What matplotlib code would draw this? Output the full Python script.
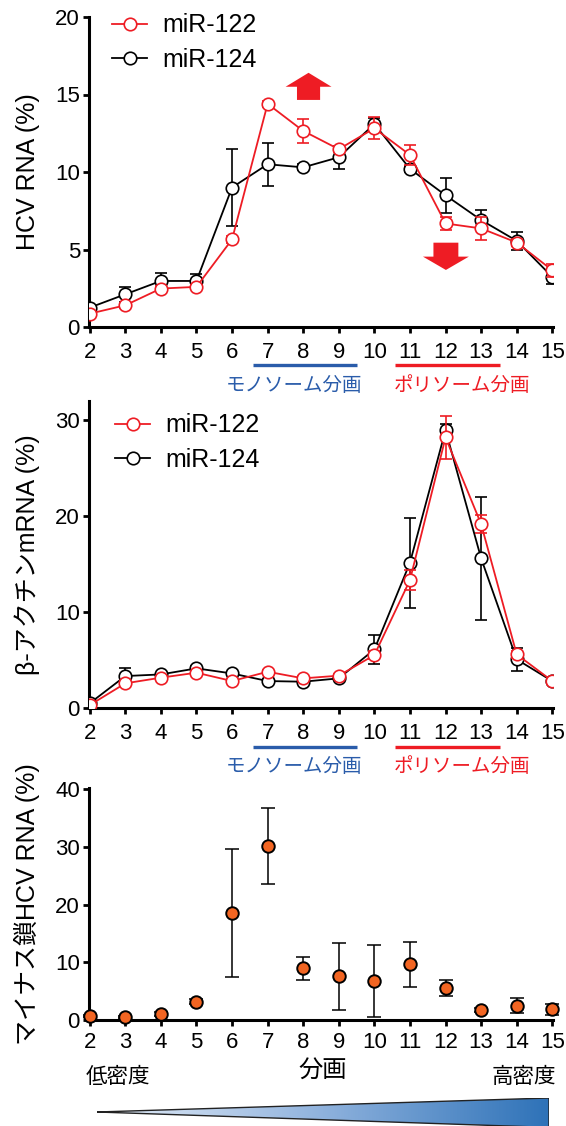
import matplotlib
matplotlib.use('Agg')
import matplotlib.pyplot as plt
from matplotlib.transforms import blended_transform_factory
from matplotlib.colors import LinearSegmentedColormap
from matplotlib.patches import Polygon
import numpy as np

plt.rcParams['font.family'] = ['Liberation Sans', 'Noto Sans CJK JP']

W, H = 566, 1126

# fractions
fractions = np.arange(2, 16)

# HCV RNA (%)
hcv_122 = [0.86, 1.4, 2.48, 2.59, 5.65, 14.4, 12.65, 11.47, 12.82, 11.1, 6.68, 6.36, 5.45, 3.66]
hcv_122_err = [0.1, 0.15, 0.15, 0.15, 0.2, 0.2, 0.8, 0.2, 0.7, 0.65, 0.4, 0.75, 0.2, 0.43]
hcv_124 = [1.25, 2.11, 2.97, 2.97, 9.0, 10.5, 10.3, 10.95, 13.1, 10.2, 8.5, 6.9, 5.56, 3.23]
hcv_124_err = [0.1, 0.48, 0.5, 0.43, 2.5, 1.4, 0.2, 0.73, 0.38, 0.2, 1.12, 0.65, 0.57, 0.48]

# beta-actin mRNA (%)
act_122 = [0.3, 2.57, 3.16, 3.68, 2.81, 3.78, 3.09, 3.37, 5.52, 13.33, 28.2, 19.17, 5.59, 2.81]
act_122_err = [0.1, 0.2, 0.2, 0.2, 0.2, 0.2, 0.2, 0.2, 0.4, 1.05, 2.2, 0.9, 0.4, 0.3]
act_124 = [0.49, 3.33, 3.5, 4.13, 3.6, 2.81, 2.74, 3.09, 6.1, 15.14, 28.96, 15.6, 5.07, 2.8]
act_124_err = [0.1, 0.8, 0.2, 0.2, 0.2, 0.2, 0.2, 0.2, 1.5, 4.7, 0.6, 6.4, 1.2, 0.2]

# minus-strand HCV RNA (%)
minus = [0.75, 0.46, 1.04, 3.17, 18.58, 30.18, 8.94, 7.6, 6.75, 9.7, 5.6, 1.73, 2.48, 1.85]
minus_err = [0.2, 0.2, 0.3, 0.4, 11.05, 6.56, 1.96, 5.8, 6.3, 3.9, 1.4, 0.4, 1.35, 0.95]

RED = '#ee1c24'
BLUE = '#2a5caa'
ORANGE = '#f26522'


def px_axes(left, top, right, bottom):
    return fig.add_axes([left / W, 1 - bottom / H, (right - left) / W, (bottom - top) / H])


def style(ax, ymax, yticks):
    ax.set_xlim(1.98, 15.02)
    ax.set_ylim(0, ymax)
    ax.set_xticks(fractions)
    ax.set_yticks(yticks)
    for s in ['top', 'right']:
        ax.spines[s].set_visible(False)
    for s in ['left', 'bottom']:
        ax.spines[s].set_linewidth(2.2)
    ax.tick_params(axis='both', labelsize=16, width=2, length=4.5)
    ax.tick_params(axis='x', pad=6)
    ax.tick_params(axis='y', pad=2)


def pair(ax, y1, e1, y2, e2, anchor):
    ax.errorbar(fractions, y2, yerr=e2, fmt='none', ecolor='black', elinewidth=1.2,
                capsize=4.5, capthick=1.2, zorder=2)
    l2, = ax.plot(fractions, y2, '-o', color='black', mfc='white', mec='black',
                  ms=9, mew=1.2, lw=1.3, zorder=3, label='miR-124')
    ax.errorbar(fractions, y1, yerr=e1, fmt='none', ecolor=RED, elinewidth=1.2,
                capsize=4.5, capthick=1.2, zorder=4)
    l1, = ax.plot(fractions, y1, '-o', color=RED, mfc='white', mec=RED,
                  ms=9, mew=1.2, lw=1.3, zorder=5, label='miR-122')
    ax.legend(handles=[l1, l2], loc='upper left', bbox_to_anchor=anchor,
              frameon=False, fontsize=18, handlelength=1.4, handletextpad=0.6,
              labelspacing=0.42, borderpad=0, borderaxespad=0, numpoints=1)


def brackets(ax, yl, yt):
    tr = blended_transform_factory(ax.transData, ax.transAxes)
    ax.plot([6.59, 9.51], [yl, yl], color=BLUE, lw=2.4, transform=tr, clip_on=False,
            solid_capstyle='butt')
    ax.plot([10.58, 13.53], [yl, yl], color=RED, lw=2.4, transform=tr, clip_on=False,
            solid_capstyle='butt')
    ax.text(7.74, yt, 'モノソーム分画', color=BLUE, fontsize=14, ha='center', va='center',
            transform=tr, family=['Noto Sans CJK JP'])
    ax.text(12.46, yt, 'ポリソーム分画', color=RED, fontsize=14, ha='center', va='center',
            transform=tr, family=['Noto Sans CJK JP'])


fig = plt.figure(figsize=(W / 100, H / 100), dpi=100)

# panel 1
ax1 = px_axes(89, 17, 553, 327)
style(ax1, 20, [0, 5, 10, 15, 20])
pair(ax1, hcv_122, hcv_122_err, hcv_124, hcv_124_err, (0.05, 1.012))
ax1.set_ylabel('HCV RNA (%)', fontsize=18)
ax1.yaxis.set_label_coords(-0.105, 0.5)
brackets(ax1, -0.1226, -0.19)
ax1.arrow(8.15, 14.65, 0, 1.75, width=0.65, head_width=1.29, head_length=0.9,
          length_includes_head=True, color=RED, lw=0, zorder=6)
ax1.arrow(12.01, 5.44, 0, -1.76, width=0.7, head_width=1.29, head_length=0.86,
          length_includes_head=True, color=RED, lw=0, zorder=6)

# panel 2
ax2 = px_axes(89, 401, 553, 708)
style(ax2, 32, [0, 10, 20, 30])
pair(ax2, act_122, act_122_err, act_124, act_124_err, (0.057, 0.96))
ax2.set_ylabel('β-アクチンmRNA (%)', fontsize=18)
ax2.yaxis.set_label_coords(-0.105, 0.5)
brackets(ax2, -0.126, -0.19)

# panel 3
ax3 = px_axes(89, 788, 553, 1020)
style(ax3, 40.2, [0, 10, 20, 30, 40])
ax3.tick_params(axis='x', pad=4)
ax3.errorbar(fractions, minus, yerr=minus_err, fmt='none', ecolor='black', elinewidth=1.1,
             capsize=4.7, capthick=1.1, zorder=2, clip_on=False)
ax3.plot(fractions, minus, 'o', mfc=ORANGE, mec='black', ms=9, mew=1.4, zorder=3,
         clip_on=False)
ax3.set_ylabel('マイナス鎖HCV RNA (%)', fontsize=18)
ax3.yaxis.set_label_coords(-0.105, 0.5)

fig.text(323 / W, 1 - 1070 / H, '分画', fontsize=17.5, ha='center', va='center',
         family=['Noto Sans CJK JP'])
fig.text(86 / W, 1 - 1077 / H, '低密度', fontsize=15.5, ha='left', va='center',
         family=['Noto Sans CJK JP'])
fig.text(556 / W, 1 - 1077 / H, '高密度', fontsize=15.5, ha='right', va='center',
         family=['Noto Sans CJK JP'])

# density gradient wedge
axg = fig.add_axes([97 / W, 0, (549 - 97) / W, 28 / H])
axg.set_xlim(0, 1)
axg.set_ylim(0, 1)
axg.axis('off')
cmap = LinearSegmentedColormap.from_list('dens', ['#e6eef8', '#8fb2dd', '#2e72b8'])
grad = np.linspace(0, 1, 256).reshape(1, -1)
im = axg.imshow(grad, cmap=cmap, extent=[0, 1, 0, 1], aspect='auto')
tri = Polygon([(0, 0.5), (1, 1), (1, -0.05)], closed=True, facecolor='none',
              edgecolor='#222222', lw=1.0)
axg.add_patch(tri)
im.set_clip_path(tri)

fig.savefig('out.png', dpi=100)
